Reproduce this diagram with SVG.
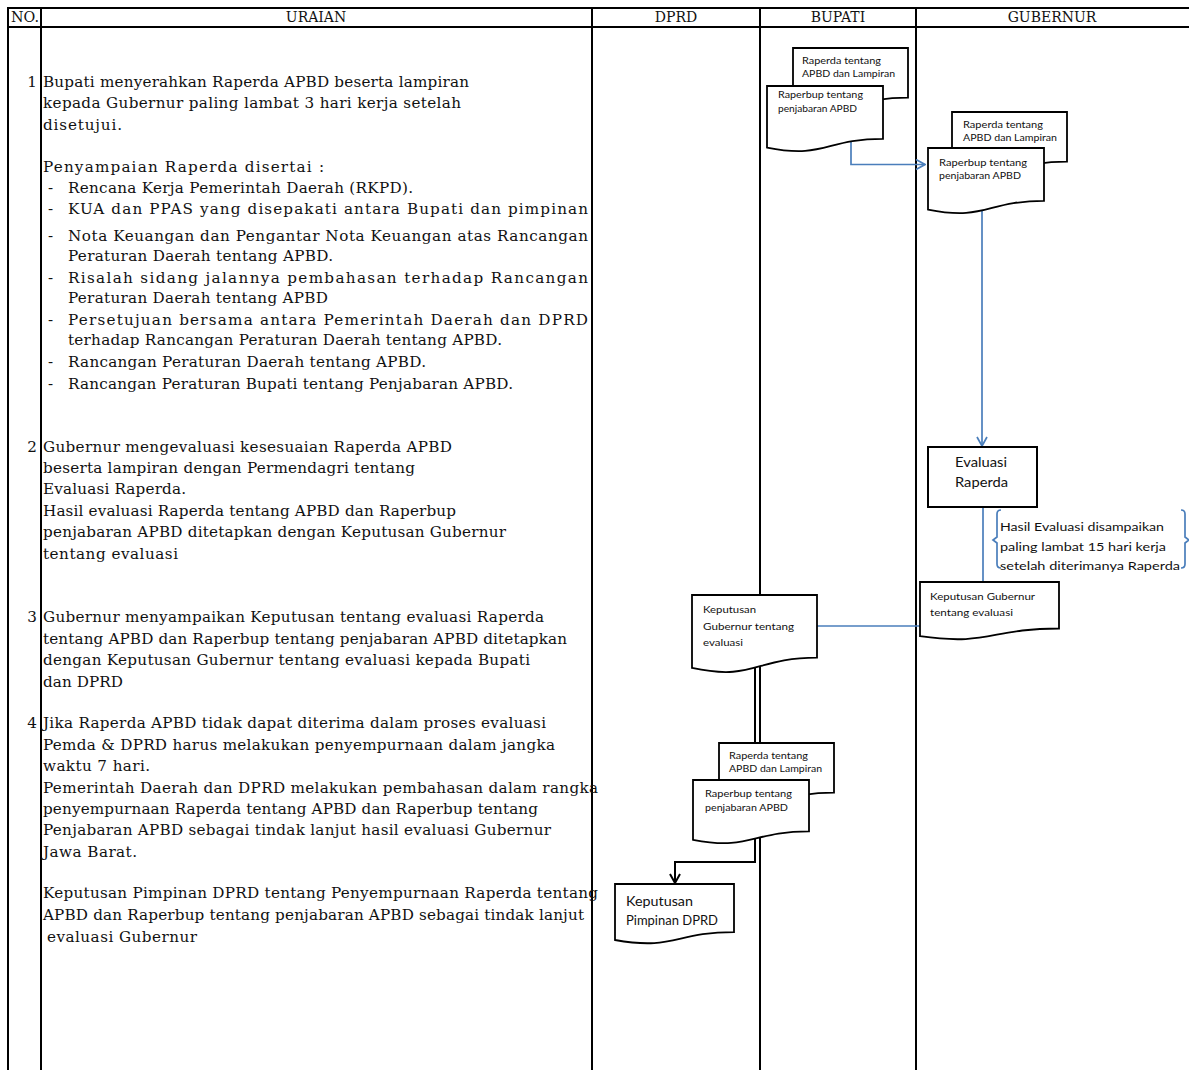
<svg xmlns="http://www.w3.org/2000/svg" width="1189" height="1070" viewBox="0 0 1189 1070">
  <defs>
    <style>
      .grid { stroke: #000; stroke-width: 2; fill: none; }
      .hd { font-family: "DejaVu Serif", "Liberation Serif", serif; font-size: 14px; fill: #111; }
      .t { font-family: "DejaVu Serif", "Liberation Serif", serif; font-size: 15.2px; fill: #111; }
      .doc { fill: #fff; stroke: #000; stroke-width: 1.8; }
      .box { fill: #fff; stroke: #000; stroke-width: 2; }
      .lbl { font-family: Lato, "Noto Sans", sans-serif; font-size: 10px; fill: #111; }
      .lbl-m { font-family: Lato, "Noto Sans", sans-serif; font-size: 11.5px; fill: #111; }
      .lbl-l { font-family: Lato, "Noto Sans", sans-serif; font-size: 14px; fill: #111; }
      .flow { stroke: #4A7EBB; stroke-width: 1.7; fill: none; }
      .flow-k { stroke: #000; stroke-width: 2; fill: none; }
    </style>
    <marker id="arrBlue" viewBox="0 0 12 12" refX="11" refY="6" markerWidth="12" markerHeight="12" markerUnits="userSpaceOnUse" orient="auto">
      <path d="M2,1 L11,6 L2,11" fill="none" stroke="#4A7EBB" stroke-width="1.7"/>
    </marker>
    <marker id="arrBlack" viewBox="0 0 12 12" refX="11" refY="6" markerWidth="12" markerHeight="12" markerUnits="userSpaceOnUse" orient="auto">
      <path d="M2,1 L11,6 L2,11" fill="none" stroke="#000" stroke-width="2"/>
    </marker>
  </defs>

  <rect width="1189" height="1070" fill="#fff"/>

  <!-- table grid -->
  <g id="grid" class="grid">
    <line x1="7" y1="8" x2="1189" y2="8"/>
    <line x1="7" y1="27" x2="1189" y2="27"/>
    <line x1="8" y1="7" x2="8" y2="1070"/>
    <line x1="41" y1="7" x2="41" y2="1070"/>
    <line x1="592" y1="7" x2="592" y2="1070"/>
    <line x1="760" y1="7" x2="760" y2="1070"/>
    <line x1="916" y1="7" x2="916" y2="1070"/>
  </g>

  <g id="header" class="hd">
    <text x="11" y="22" textLength="28" lengthAdjust="spacingAndGlyphs">NO.</text>
    <text x="316" y="22" text-anchor="middle">URAIAN</text>
    <text x="676" y="22" text-anchor="middle">DPRD</text>
    <text x="838" y="22" text-anchor="middle">BUPATI</text>
    <text x="1052" y="22" text-anchor="middle">GUBERNUR</text>
  </g>

  <!-- step descriptions -->
  <g id="uraian" class="t">
    <text x="37" y="87" text-anchor="end">1</text>
    <text x="43" y="87" textLength="426" lengthAdjust="spacing">Bupati menyerahkan Raperda APBD beserta lampiran</text>
    <text x="43" y="108" textLength="418" lengthAdjust="spacing">kepada Gubernur paling lambat 3 hari kerja setelah</text>
    <text x="43" y="130" textLength="79" lengthAdjust="spacing">disetujui.</text>
    <text x="43" y="172" textLength="281" lengthAdjust="spacing">Penyampaian Raperda disertai :</text>
    <text x="48" y="193">-</text>
    <text x="68" y="193" textLength="345" lengthAdjust="spacing">Rencana Kerja Pemerintah Daerah (RKPD).</text>
    <text x="48" y="214">-</text>
    <text x="68" y="214" textLength="520" lengthAdjust="spacing">KUA dan PPAS yang disepakati antara Bupati dan pimpinan</text>
    <text x="48" y="241">-</text>
    <text x="68" y="241" textLength="520" lengthAdjust="spacing">Nota Keuangan dan Pengantar Nota Keuangan atas Rancangan</text>
    <text x="68" y="261" textLength="265" lengthAdjust="spacing">Peraturan Daerah tentang APBD.</text>
    <text x="48" y="283">-</text>
    <text x="68" y="283" textLength="520" lengthAdjust="spacing">Risalah sidang jalannya pembahasan terhadap Rancangan</text>
    <text x="68" y="303" textLength="260" lengthAdjust="spacing">Peraturan Daerah tentang APBD</text>
    <text x="48" y="325">-</text>
    <text x="68" y="325" textLength="520" lengthAdjust="spacing">Persetujuan bersama antara Pemerintah Daerah dan DPRD</text>
    <text x="68" y="345" textLength="434" lengthAdjust="spacing">terhadap Rancangan Peraturan Daerah tentang APBD.</text>
    <text x="48" y="367">-</text>
    <text x="68" y="367" textLength="358" lengthAdjust="spacing">Rancangan Peraturan Daerah tentang APBD.</text>
    <text x="48" y="389">-</text>
    <text x="68" y="389" textLength="445" lengthAdjust="spacing">Rancangan Peraturan Bupati tentang Penjabaran APBD.</text>

    <text x="37" y="452" text-anchor="end">2</text>
    <text x="43" y="452" textLength="409" lengthAdjust="spacing">Gubernur mengevaluasi kesesuaian Raperda APBD</text>
    <text x="43" y="473" textLength="372" lengthAdjust="spacing">beserta lampiran dengan Permendagri tentang</text>
    <text x="43" y="494" textLength="143" lengthAdjust="spacing">Evaluasi Raperda.</text>
    <text x="43" y="516" textLength="413" lengthAdjust="spacing">Hasil evaluasi Raperda tentang APBD dan Raperbup</text>
    <text x="43" y="537" textLength="463" lengthAdjust="spacing">penjabaran APBD ditetapkan dengan Keputusan Gubernur</text>
    <text x="43" y="559" textLength="135" lengthAdjust="spacing">tentang evaluasi</text>

    <text x="37" y="622" text-anchor="end">3</text>
    <text x="43" y="622" textLength="501" lengthAdjust="spacing">Gubernur menyampaikan Keputusan tentang evaluasi Raperda</text>
    <text x="43" y="644" textLength="524" lengthAdjust="spacing">tentang APBD dan Raperbup tentang penjabaran APBD ditetapkan</text>
    <text x="43" y="665" textLength="487" lengthAdjust="spacing">dengan Keputusan Gubernur tentang evaluasi kepada Bupati</text>
    <text x="43" y="687" textLength="80" lengthAdjust="spacing">dan DPRD</text>

    <text x="37" y="728" text-anchor="end">4</text>
    <text x="43" y="728" textLength="503" lengthAdjust="spacing">Jika Raperda APBD tidak dapat diterima dalam proses evaluasi</text>
    <text x="43" y="750" textLength="512" lengthAdjust="spacing">Pemda &amp; DPRD harus melakukan penyempurnaan dalam jangka</text>
    <text x="43" y="771" textLength="107" lengthAdjust="spacing">waktu 7 hari.</text>
    <text x="43" y="793" textLength="555" lengthAdjust="spacing">Pemerintah Daerah dan DPRD melakukan pembahasan dalam rangka</text>
    <text x="43" y="814" textLength="495" lengthAdjust="spacing">penyempurnaan Raperda tentang APBD dan Raperbup tentang</text>
    <text x="43" y="835" textLength="508" lengthAdjust="spacing">Penjabaran APBD sebagai tindak lanjut hasil evaluasi Gubernur</text>
    <text x="43" y="857" textLength="94" lengthAdjust="spacing">Jawa Barat.</text>
    <text x="43" y="898" textLength="555" lengthAdjust="spacing">Keputusan Pimpinan DPRD tentang Penyempurnaan Raperda tentang</text>
    <text x="43" y="920" textLength="541" lengthAdjust="spacing">APBD dan Raperbup tentang penjabaran APBD sebagai tindak lanjut</text>
    <text x="47" y="942" textLength="150" lengthAdjust="spacing">evaluasi Gubernur</text>
  </g>

  <!-- connectors -->
  <g id="connectors">
    <path class="flow" d="M851,140 V164.5 H925" marker-end="url(#arrBlue)"/>
    <path class="flow" d="M982,205 V446" marker-end="url(#arrBlue)"/>
    <path class="flow" d="M983,507 V582"/>
    <path class="flow" d="M920,626 H817"/>
    <path class="flow-k" d="M755,668 V862 H675 V883" marker-end="url(#arrBlack)"/>
  </g>

  <!-- BUPATI: submitted drafts -->
  <g id="bupati-raperda">
    <path class="doc" d="M793,48 H908 V97.7 C850.5,97.7 850.5,116.7 793,105.9 Z"/>
    <text class="lbl" x="802" y="63.5" textLength="79" lengthAdjust="spacingAndGlyphs">Raperda tentang</text>
    <text class="lbl" x="802" y="77" textLength="93" lengthAdjust="spacingAndGlyphs">APBD dan Lampiran</text>
  </g>
  <g id="bupati-raperbup">
    <path class="doc" d="M767,86 H883 V138.9 C825,138.9 825,159.1 767,147.6 Z"/>
    <text class="lbl" x="778" y="97.5" textLength="85" lengthAdjust="spacingAndGlyphs">Raperbup tentang</text>
    <text class="lbl" x="778" y="111.5" textLength="79" lengthAdjust="spacingAndGlyphs">penjabaran APBD</text>
  </g>

  <!-- GUBERNUR: received drafts -->
  <g id="gubernur-raperda">
    <path class="doc" d="M952,112 H1067 V161.7 C1009.5,161.7 1009.5,180.7 952,169.9 Z"/>
    <text class="lbl" x="963" y="127.5" textLength="80" lengthAdjust="spacingAndGlyphs">Raperda tentang</text>
    <text class="lbl" x="963" y="140.5" textLength="94" lengthAdjust="spacingAndGlyphs">APBD dan Lampiran</text>
  </g>
  <g id="gubernur-raperbup">
    <path class="doc" d="M928,148 H1044 V200.9 C986,200.9 986,221.1 928,209.6 Z"/>
    <text class="lbl" x="939" y="165.5" textLength="88" lengthAdjust="spacingAndGlyphs">Raperbup tentang</text>
    <text class="lbl" x="939" y="178.5" textLength="82" lengthAdjust="spacingAndGlyphs">penjabaran APBD</text>
  </g>

  <!-- GUBERNUR: evaluation -->
  <g id="evaluasi">
    <rect class="box" x="928" y="447" width="109" height="60"/>
    <text class="lbl-l" x="981" y="467" text-anchor="middle" font-size="15" textLength="52" lengthAdjust="spacingAndGlyphs">Evaluasi</text>
    <text class="lbl-l" x="981.5" y="487" text-anchor="middle" font-size="15" textLength="53" lengthAdjust="spacingAndGlyphs">Raperda</text>
  </g>

  <g id="catatan-evaluasi">
    <path class="flow" d="M1001,510 Q997,510 997,514 V537 L993,540 L997,543 V564 Q997,568 1001,568"/>
    <path class="flow" d="M1181,510 Q1185,510 1185,514 V537 L1189,540 L1185,543 V564 Q1185,568 1181,568"/>
    <text class="lbl-m" x="1000" y="531" font-size="13.5" textLength="164" lengthAdjust="spacingAndGlyphs">Hasil Evaluasi disampaikan</text>
    <text class="lbl-m" x="1000" y="551" font-size="13.5" textLength="166" lengthAdjust="spacingAndGlyphs">paling lambat 15  hari kerja</text>
    <text class="lbl-m" x="1000" y="570" font-size="13.5" textLength="180" lengthAdjust="spacingAndGlyphs">setelah diterimanya Raperda</text>
  </g>

  <g id="keputusan-gubernur">
    <path class="doc" d="M920,582 H1059 V628.5 C989.5,628.5 989.5,646.2 920,636.2 Z"/>
    <text class="lbl" x="930" y="600" font-size="10.5" textLength="105" lengthAdjust="spacingAndGlyphs">Keputusan Gubernur</text>
    <text class="lbl" x="930" y="616" font-size="10.5" textLength="83" lengthAdjust="spacingAndGlyphs">tentang evaluasi</text>
  </g>

  <!-- DPRD: received decision -->
  <g id="dprd-keputusan-gubernur">
    <path class="doc" d="M692,595 H817 V657.6 C754.5,657.6 754.5,681.4 692,667.9 Z"/>
    <text class="lbl" x="703" y="613" font-size="11" textLength="53" lengthAdjust="spacingAndGlyphs">Keputusan</text>
    <text class="lbl" x="703" y="630" font-size="11" textLength="91" lengthAdjust="spacingAndGlyphs">Gubernur tentang</text>
    <text class="lbl" x="703" y="646" font-size="11" textLength="40" lengthAdjust="spacingAndGlyphs">evaluasi</text>
  </g>

  <!-- revised drafts -->
  <g id="penyempurnaan-raperda">
    <path class="doc" d="M719,743 H834 V792.7 C776.5,792.7 776.5,811.7 719,800.9 Z"/>
    <text class="lbl" x="729" y="758.5" textLength="79" lengthAdjust="spacingAndGlyphs">Raperda tentang</text>
    <text class="lbl" x="729" y="771.5" textLength="93" lengthAdjust="spacingAndGlyphs">APBD dan Lampiran</text>
  </g>
  <g id="penyempurnaan-raperbup">
    <path class="doc" d="M693,780 H809 V831.3 C751,831.3 751,850.9 693,839.8 Z"/>
    <text class="lbl" x="705" y="796.5" textLength="87" lengthAdjust="spacingAndGlyphs">Raperbup tentang</text>
    <text class="lbl" x="705" y="810.5" textLength="83" lengthAdjust="spacingAndGlyphs">penjabaran APBD</text>
  </g>

  <!-- DPRD: leadership decision -->
  <g id="keputusan-pimpinan-dprd">
    <path class="doc" d="M615,884 H734 V932.1 C674.5,932.1 674.5,950.5 615,940 Z"/>
    <text class="lbl-l" x="626" y="906" textLength="67" lengthAdjust="spacingAndGlyphs">Keputusan</text>
    <text class="lbl-l" x="626" y="925" textLength="92" lengthAdjust="spacingAndGlyphs">Pimpinan DPRD</text>
  </g>
</svg>
